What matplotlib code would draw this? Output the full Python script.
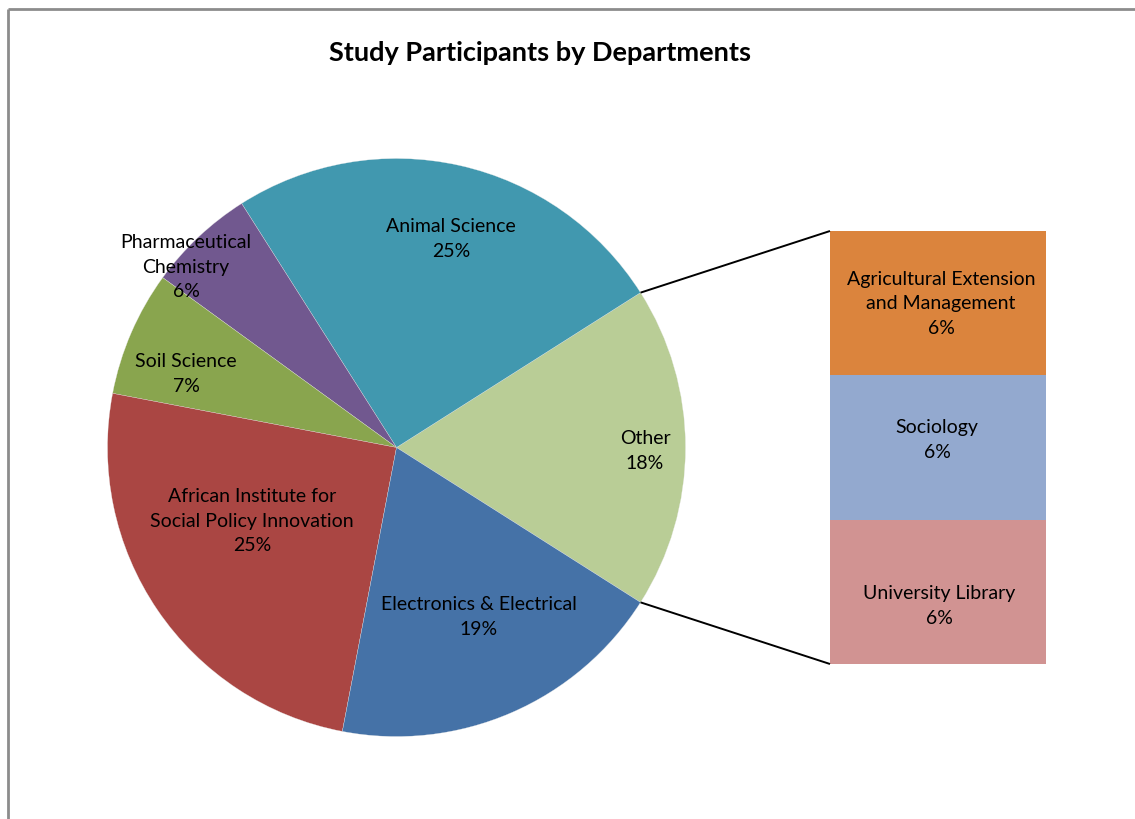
import numpy as np
import matplotlib
matplotlib.use("Agg")
import matplotlib.pyplot as plt
from matplotlib.patches import Rectangle

plt.rcParams['font.family'] = ['Lato', 'DejaVu Sans']

# departments shown in the pie (percent of participants)
pie_labels = ["Other", "Animal Science", "Pharmaceutical\nChemistry", "Soil Science",
              "African Institute for\nSocial Policy Innovation", "Electronics & Electrical"]
pie_values = [None, 25, 6, 7, 25, 19]
pie_colors = ["#B9CD96", "#4198AF", "#71588F", "#89A54E", "#AA4643", "#4572A7"]

# departments grouped into "Other", shown in the stacked bar
bar_labels = ["Agricultural Extension\nand Management", "Sociology", "University Library"]
bar_values = [6, 6, 6]
bar_colors = ["#DB843D", "#93A9CF", "#D19392"]

pie_values[0] = sum(bar_values)

W, H = 1135, 819
fig = plt.figure(figsize=(W / 100, H / 100), dpi=100)
ax = fig.add_axes([0, 0, 1, 1])

# pie geometry in pixel units (y measured from top, flipped below)
cx, cy, R = 396.5, 447.5, 289
start = -pie_values[0] / 2 * 3.6
wedges, _ = ax.pie(pie_values, colors=pie_colors, startangle=start, counterclock=True,
                   center=(cx, H - cy), radius=R,
                   wedgeprops=dict(edgecolor="#E8E8E8", linewidth=0.2))

pie_text_pos = [(645, 451), (451, 239), (186, 267), (186, 374), (252, 521), (479, 617)]
for lab, val, (tx, ty) in zip(pie_labels, pie_values, pie_text_pos):
    ax.text(tx, H - ty, f"{lab}\n{val}%", ha="center", va="center",
            fontsize=14, linespacing=1.55, color="black")

# stacked bar for the split-out slice
bx0, bx1 = 830, 1046
btop, bbot = 231, 664
scale = (bbot - btop) / sum(bar_values)
y = H - btop
bar_text_pos = [(941, 304), (937, 440), (939, 606)]
for lab, val, col, (tx, ty) in zip(bar_labels, bar_values, bar_colors, bar_text_pos):
    h = val * scale
    ax.add_patch(Rectangle((bx0, y - h), bx1 - bx0, h, facecolor=col, edgecolor="none"))
    ax.text(tx, H - ty, f"{lab}\n{val}%", ha="center", va="center",
            fontsize=14, linespacing=1.55, color="black")
    y -= h

# connector lines from the edges of the "Other" slice to the bar corners
a = np.deg2rad(pie_values[0] / 2 * 3.6)
px, py = cx + R * np.cos(a), R * np.sin(a)
ax.plot([px, bx0], [H - cy + py, H - btop], color="black", lw=1.4, solid_capstyle="butt")
ax.plot([px, bx0], [H - cy - py, H - bbot], color="black", lw=1.4, solid_capstyle="butt")

ax.text(540, H - 53, "Study Participants by Departments", ha="center", va="center",
        fontsize=19.5, fontweight="bold")

# chart area frame (top and left edges)
ax.plot([8, W], [H - 9, H - 9], color="#8C8C8C", lw=2, solid_capstyle="butt")
ax.plot([8, 8], [H - 9, 0], color="#8C8C8C", lw=2, solid_capstyle="butt")

ax.set_xlim(0, W)
ax.set_ylim(0, H)
ax.set_aspect("auto")
ax.axis("off")

fig.savefig("out.png", dpi=100)
